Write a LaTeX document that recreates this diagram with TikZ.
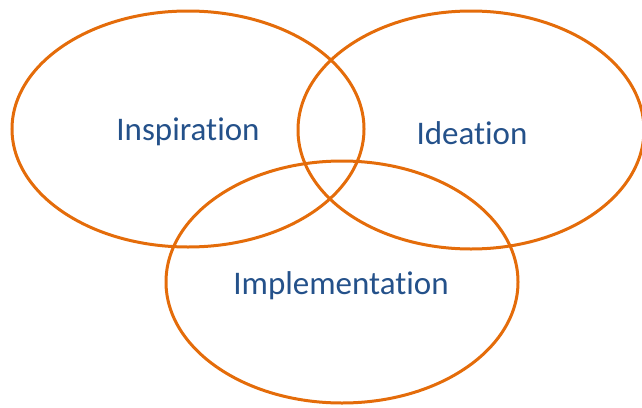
\documentclass[tikz,border=0pt]{standalone}
\usepackage{fontspec}
\setmainfont[Ligatures=NoCommon]{Carlito}
\usepackage{tikz}
\definecolor{ringorange}{HTML}{E46C0A}
\definecolor{labelblue}{HTML}{24518A}
\tikzset{
  ring/.style={draw=ringorange, line width=3pt},
  label/.style={text=labelblue, font=\fontsize{33}{38}\selectfont}
}

\begin{document}
\begin{tikzpicture}[x=1pt, y=-1pt]
      \useasboundingbox (0,0) rectangle (642,407);

      \draw[ring] (188,129) ellipse [x radius=176pt, y radius=118pt];
      \draw[ring] (471,130) ellipse [x radius=173pt, y radius=119pt];
      \draw[ring] (342,282) ellipse [x radius=176pt, y radius=121pt];

      \node[label] (insp) at (188,132) {Inspiration};
      \node[label] (idea) at (472,133) {Ideation};
      \node[label] (impl) at (341,286) {Implementation};
    \end{tikzpicture}
\end{document}
